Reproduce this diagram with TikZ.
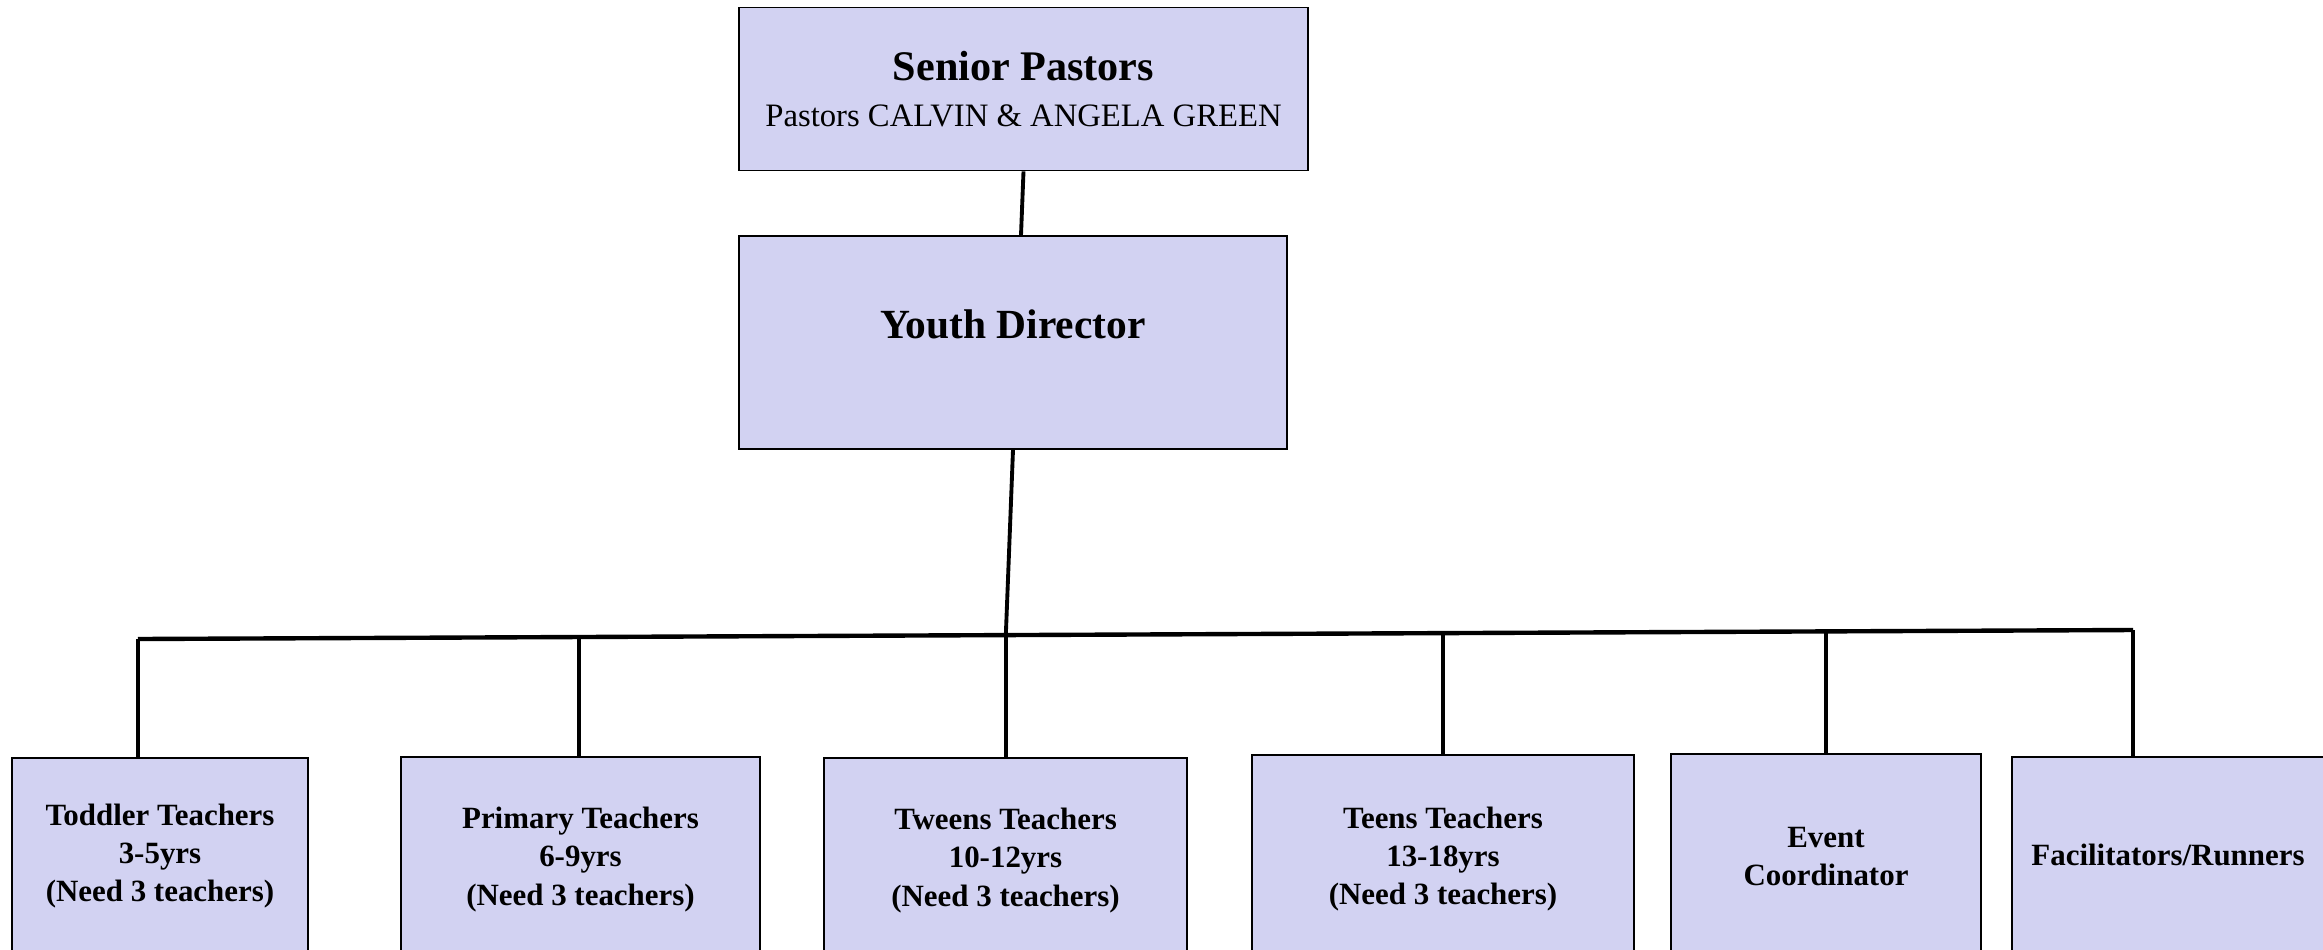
\documentclass[tikz,border=0pt]{standalone}
\usepackage{fontspec}
\setmainfont{Liberation Serif}
\usepackage{tikz}
\usetikzlibrary{positioning, calc}
\definecolor{boxfill}{RGB}{210,210,242}

\begin{document}
\begin{tikzpicture}[
        box/.style={draw, fill=boxfill, line width=0.5pt, align=center, inner sep=2pt},
        team/.style={box, font=\bfseries\fontsize{8.8}{10.9}\selectfont},
        link/.style={line width=1.1pt},
        bar/.style={line width=1.25pt},
    ]
        \clip (0, 0) rectangle (23.23, -9.49);
        \node[box, minimum width=5.69cm, minimum height=1.63cm, font=\fontsize{9.3}{13}\selectfont] (Senior) at (10.235, -0.89) {{\fontsize{12}{13}\selectfont\bfseries Senior Pastors}\\Pastors CALVIN \& ANGELA GREEN};
        \node[box, minimum width=5.48cm, minimum height=2.13cm, text depth=0.36cm, font=\bfseries\fontsize{11.8}{14}\selectfont] (Youth) at (10.13, -3.425) {Youth Director};
        \node[team, minimum width=2.96cm, minimum height=1.96cm] (Toddler) at (1.60, -8.56) {Toddler Teachers\\3-5yrs\\(Need 3 teachers)};
        \node[team, minimum width=3.59cm, minimum height=2.05cm] (Primary) at (5.805, -8.595) {Primary Teachers\\6-9yrs\\(Need 3 teachers)};
        \node[team, minimum width=3.63cm, minimum height=2.05cm] (Tweens) at (10.055, -8.605) {Tweens Teachers\\10-12yrs\\(Need 3 teachers)};
        \node[team, minimum width=3.82cm, minimum height=2.08cm] (Teens) at (14.43, -8.59) {Teens Teachers\\13-18yrs\\(Need 3 teachers)};
        \node[team, minimum width=3.10cm, minimum height=2.05cm] (Event) at (18.26, -8.565) {Event\\Coordinator};
        \node[team, minimum width=3.12cm, minimum height=1.96cm] (Runners) at (21.68, -8.55) {Facilitators/Runners};
        % the long bar under the director
        \coordinate (BarL) at (1.38, -6.39);
        \coordinate (BarR) at (21.33, -6.30);
        \coordinate (J2) at ($(BarL)!0.221!(BarR)$);
        \coordinate (J3) at ($(BarL)!0.435!(BarR)$);
        \coordinate (J4) at ($(BarL)!0.654!(BarR)$);
        \coordinate (J5) at ($(BarL)!0.846!(BarR)$);
        \draw[link] (Senior.south) -- ([xshift=0.08cm]Youth.north);
        \draw[link] (Youth.south) -- (J3);
        \draw[bar] (BarL) -- (BarR);
        \draw[link] (BarL) -- (BarL |- Toddler.north);
        \draw[link] (J2) -- (J2 |- Primary.north);
        \draw[link] (J3) -- (J3 |- Tweens.north);
        \draw[link] (J4) -- (J4 |- Teens.north);
        \draw[link] (J5) -- (J5 |- Event.north);
        \draw[link] (BarR) -- (BarR |- Runners.north);
    \end{tikzpicture}
\end{document}
